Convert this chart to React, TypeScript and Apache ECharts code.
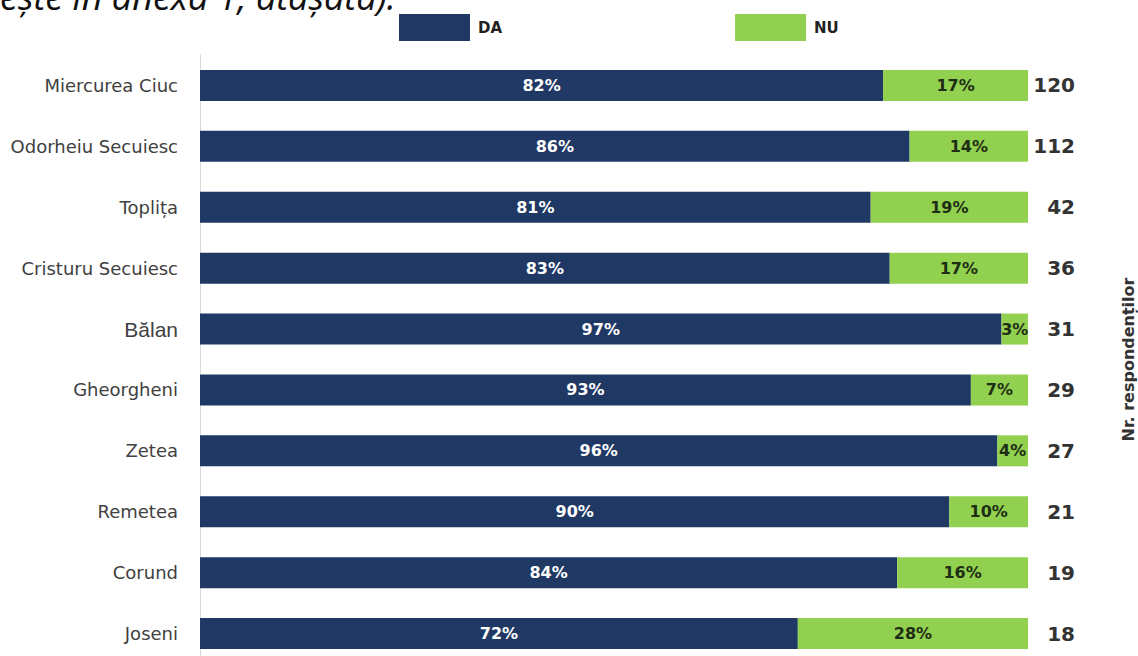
import React, { useEffect, useRef } from "react";
import * as echarts from "echarts";

const categories = [
  "Miercurea Ciuc",
  "Odorheiu Secuiesc",
  "Toplița",
  "Cristuru Secuiesc",
  "Bălan",
  "Gheorgheni",
  "Zetea",
  "Remetea",
  "Corund",
  "Joseni",
];
const daValues = [82.5, 85.7, 81.0, 83.3, 96.8, 93.1, 96.3, 90.5, 84.2, 72.2];
const nuValues = [17.5, 14.3, 19.0, 16.7, 3.2, 6.9, 3.7, 9.5, 15.8, 27.8];
const daLabels = ["82%", "86%", "81%", "83%", "97%", "93%", "96%", "90%", "84%", "72%"];
const nuLabels = ["17%", "14%", "19%", "17%", "3%", "7%", "4%", "10%", "16%", "28%"];
const respondents = ["120", "112", "42", "36", "31", "29", "27", "21", "19", "18"];
const topText = "ește în anexa 1, atașată).";

const FONT = "'DejaVu Sans', 'Open Sans', sans-serif";

export default function App() {
  const ref = useRef<HTMLDivElement>(null);
  useEffect(() => {
    if (!ref.current) return;
    const chart = echarts.init(ref.current, null, { renderer: "svg" });
    chart.setOption({
      animation: false,
      backgroundColor: "#ffffff",
      textStyle: { fontFamily: FONT },
      graphic: [
        {
          type: "text",
          left: 0,
          top: -22,
          style: {
            text: topText,
            font: `italic 36px 'Open Sans', sans-serif`,
            fill: "#111111",
          },
        },
      ],
      legend: {
        left: 394,
        top: 9,
        itemWidth: 71,
        itemHeight: 27,
        itemGap: 233,
        icon: "rect",
        textStyle: { fontFamily: FONT, fontWeight: "bold", fontSize: 15, color: "#222222", padding: [0, 0, 8, 3] },
        data: ["DA", "NU"],
      },
      grid: { left: 200, right: 110, top: 55, height: 609, containLabel: false, outerBoundsMode: "none" },
      xAxis: {
        type: "value",
        min: 0,
        max: 100,
        show: false,
      },
      yAxis: [
        {
          type: "category",
          data: categories,
          inverse: true,
          axisLine: { show: true, lineStyle: { color: "#d9d9d9", width: 1 } },
          axisTick: { show: false },
          axisLabel: {
            margin: 22,
            fontFamily: FONT,
            fontSize: 18,
            color: "#404040",
            formatter: (v: string) => (v === "Bălan" ? `{ar|${v}}` : v),
            rich: {
              ar: { fontFamily: "'Liberation Sans', Arial, sans-serif", fontSize: 21, color: "#404040" },
            },
          },
        },
        {
          type: "category",
          data: respondents,
          inverse: true,
          position: "right",
          axisLine: { show: false },
          axisTick: { show: false },
          axisLabel: {
            margin: 47,
            align: "right",
            fontFamily: FONT,
            fontWeight: "bold",
            fontSize: 20,
            color: "#333333",
          },
          name: "Nr. respondenților",
          nameLocation: "middle",
          nameRotate: 90,
          nameGap: 92,
          nameTextStyle: { fontFamily: FONT, fontWeight: "bold", fontSize: 16, color: "#333333" },
        },
      ],
      series: [
        {
          name: "DA",
          type: "bar",
          stack: "t",
          yAxisIndex: 0,
          barWidth: 31,
          data: daValues,
          itemStyle: { color: "#1f3864" },
          label: {
            show: true,
            position: "inside",
            color: "#ffffff",
            fontWeight: "bold",
            fontSize: 16,
            fontFamily: FONT,
            formatter: (p: any) => daLabels[p.dataIndex],
          },
        },
        {
          name: "NU",
          type: "bar",
          stack: "t",
          yAxisIndex: 0,
          barWidth: 31,
          data: nuValues,
          itemStyle: { color: "#92d050" },
          label: {
            show: true,
            position: "inside",
            color: "#1e2e14",
            fontWeight: "bold",
            fontSize: 16,
            fontFamily: FONT,
            formatter: (p: any) => nuLabels[p.dataIndex],
          },
        },
      ],
    });
    return () => chart.dispose();
  }, []);
  return (
    <div
      ref={ref}
      style={{ position: "absolute", left: 0, top: 0, width: 1138, height: 656 }}
    />
  );
}
